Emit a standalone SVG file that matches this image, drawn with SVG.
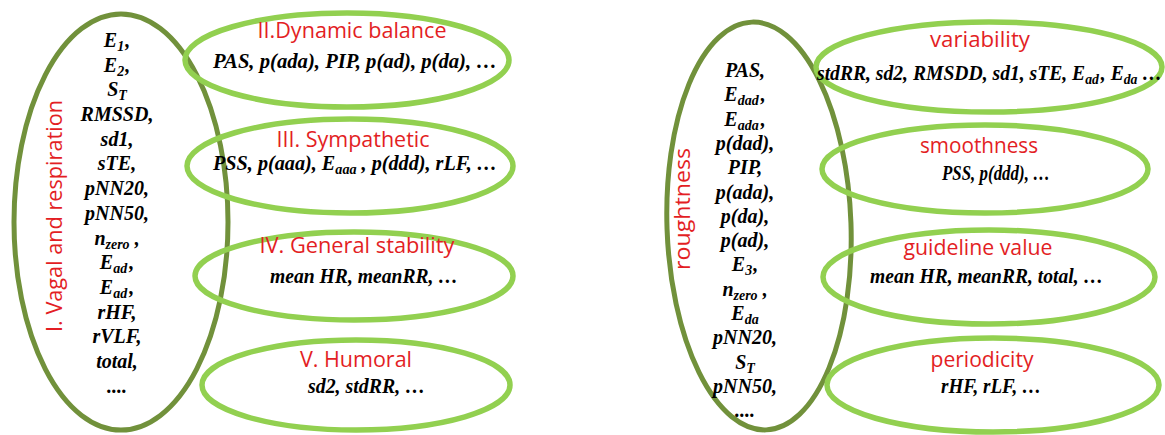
<svg xmlns="http://www.w3.org/2000/svg" width="1165" height="435" viewBox="0 0 1165 435">
<style>
.big{fill:none;stroke:#71913b;stroke-width:5}
.sm{fill:none;stroke:#92d050;stroke-width:5.5}
.t{font-family:"Open Sans","Liberation Sans",sans-serif;font-size:22px;fill:#e31e24;text-anchor:middle}
.f{font-family:"Liberation Serif",serif;font-weight:bold;font-style:italic;font-size:20px;fill:#000}
.c{text-anchor:middle}
.s{font-size:14px}
</style>
<rect width="1165" height="435" fill="#fff"/>
<g id="connectors"/>
<g id="node-vagal">
<ellipse class="big" cx="121" cy="222" rx="107" ry="208"/>
<text class="t" font-size="24" transform="translate(62,216) rotate(-90)" textLength="232" lengthAdjust="spacingAndGlyphs">I. Vagal and respiration</text>
<g class="f c">
<text x="117" y="47">E<tspan class="s" dy="4">1</tspan><tspan dy="-4" dx="1">,</tspan></text>
<text x="117" y="72">E<tspan class="s" dy="4">2</tspan><tspan dy="-4" dx="1">,</tspan></text>
<text x="117" y="96">S<tspan class="s" dy="4">T</tspan></text>
<text x="117" y="121">RMSSD,</text>
<text x="117" y="146">sd1,</text>
<text x="117" y="170">sTE,</text>
<text x="117" y="195">pNN20,</text>
<text x="117" y="220">pNN50,</text>
<text x="117" y="245">n<tspan class="s" dy="4">zero</tspan><tspan dy="-4"> ,</tspan></text>
<text x="117" y="269">E<tspan class="s" dy="4">ad</tspan><tspan dy="-4" dx="2">,</tspan></text>
<text x="117" y="294">E<tspan class="s" dy="4">ad</tspan><tspan dy="-4" dx="2">,</tspan></text>
<text x="117" y="319">rHF,</text>
<text x="117" y="343">rVLF,</text>
<text x="117" y="368">total,</text>
<text x="117" y="393">....</text>
</g>
</g>
<g id="node-dynamic">
<ellipse class="sm" cx="347" cy="60" rx="162" ry="47"/>
<text class="t" x="352" y="38" textLength="189" lengthAdjust="spacingAndGlyphs">II.Dynamic balance</text>
<text class="f" x="213" y="68" textLength="284" lengthAdjust="spacingAndGlyphs">PAS, p(ada), PIP, p(ad), p(da), …</text>
</g>
<g id="node-sympathetic">
<ellipse class="sm" cx="350" cy="166" rx="163" ry="47"/>
<text class="t" x="353" y="147" textLength="153" lengthAdjust="spacingAndGlyphs">III. Sympathetic</text>
<text class="f" x="213" y="170" textLength="284" lengthAdjust="spacingAndGlyphs">PSS, p(aaa), E<tspan class="s" dy="4">aaa</tspan><tspan dy="-4"> , p(ddd), rLF, …</tspan></text>
</g>
<g id="node-general">
<ellipse class="sm" cx="354" cy="276" rx="159" ry="44"/>
<text class="t" x="357" y="253" textLength="195" lengthAdjust="spacingAndGlyphs">IV. General stability</text>
<text class="f" x="270" y="283" textLength="188" lengthAdjust="spacingAndGlyphs">mean HR, meanRR, …</text>
</g>
<g id="node-humoral">
<ellipse class="sm" cx="356" cy="385" rx="154" ry="45"/>
<text class="t" x="356" y="367" textLength="112" lengthAdjust="spacingAndGlyphs">V. Humoral</text>
<text class="f" x="308" y="393" textLength="117" lengthAdjust="spacingAndGlyphs">sd2, stdRR, …</text>
</g>
<g id="node-roughness">
<ellipse class="big" cx="759" cy="226" rx="92" ry="204" transform="rotate(-2 759 226)"/>
<text class="t" font-size="24" transform="translate(690,209) rotate(-90)" textLength="122" lengthAdjust="spacingAndGlyphs">roughtness</text>
<g class="f c">
<text x="745" y="77">PAS,</text>
<text x="745" y="101">E<tspan class="s" dy="4">dad</tspan><tspan dy="-4" dx="2">,</tspan></text>
<text x="745" y="126">E<tspan class="s" dy="4">ada</tspan><tspan dy="-4" dx="2">,</tspan></text>
<text x="745" y="150">p(dad),</text>
<text x="745" y="174">PIP,</text>
<text x="745" y="199">p(ada),</text>
<text x="745" y="223">p(da),</text>
<text x="745" y="247">p(ad),</text>
<text x="745" y="271">E<tspan class="s" dy="4">3</tspan><tspan dy="-4" dx="1">,</tspan></text>
<text x="745" y="296">n<tspan class="s" dy="4">zero</tspan><tspan dy="-4"> ,</tspan></text>
<text x="745" y="320">E<tspan class="s" dy="4">da</tspan></text>
<text x="745" y="344">pNN20,</text>
<text x="745" y="369">S<tspan class="s" dy="4">T</tspan></text>
<text x="745" y="393">pNN50,</text>
<text x="745" y="417">....</text>
</g>
</g>
<g id="node-variability">
<ellipse class="sm" cx="989" cy="67" rx="173" ry="45"/>
<text class="t" x="980" y="47" textLength="100" lengthAdjust="spacingAndGlyphs">variability</text>
<text class="f" x="817" y="80" textLength="345" lengthAdjust="spacingAndGlyphs">stdRR, sd2, RMSDD, sd1, sTE, E<tspan class="s" dy="4">ad</tspan><tspan dy="-4" dx="2">, E</tspan><tspan class="s" dy="4">da</tspan><tspan dy="-4"> …</tspan></text>
</g>
<g id="node-smoothness">
<ellipse class="sm" cx="985" cy="169" rx="163" ry="44"/>
<text class="t" x="979" y="153" textLength="118" lengthAdjust="spacingAndGlyphs">smoothness</text>
<text class="f" x="942" y="180" textLength="108" lengthAdjust="spacingAndGlyphs">PSS, p(ddd), …</text>
</g>
<g id="node-guideline">
<ellipse class="sm" cx="989" cy="277" rx="166" ry="47"/>
<text class="t" x="978" y="255" textLength="149" lengthAdjust="spacingAndGlyphs">guideline value</text>
<text class="f" x="870" y="283" textLength="233" lengthAdjust="spacingAndGlyphs">mean HR, meanRR, total, …</text>
</g>
<g id="node-periodicity">
<ellipse class="sm" cx="993" cy="385" rx="166" ry="47"/>
<text class="t" x="982" y="367" textLength="103" lengthAdjust="spacingAndGlyphs">periodicity</text>
<text class="f" x="941" y="393" textLength="100" lengthAdjust="spacingAndGlyphs">rHF, rLF, …</text>
</g>
</svg>
